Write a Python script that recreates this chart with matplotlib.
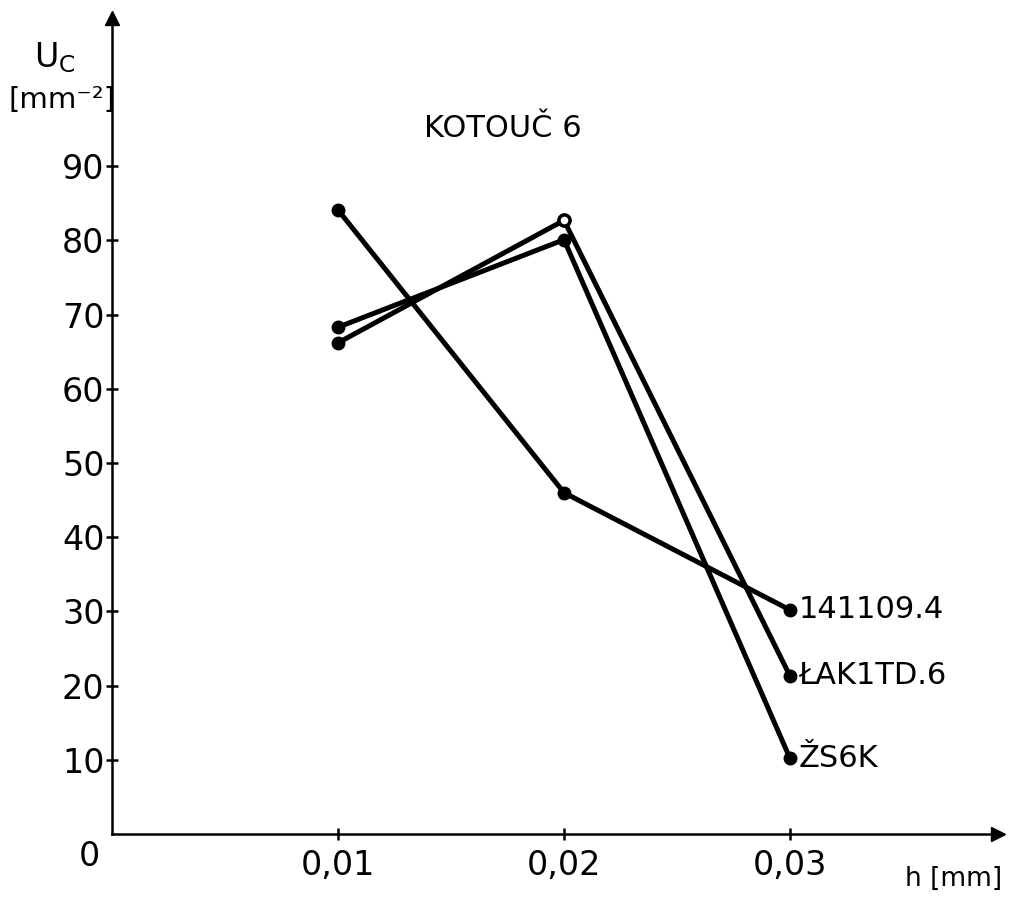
import matplotlib.pyplot as plt

h = [0.01, 0.02, 0.03]
series_names = ["141109.4", "ŁAK1TD.6", "ŽS6K"]
uc_141109 = [84.1, 46.0, 30.2]
uc_lak = [66.2, 82.7, 21.3]
uc_zs6k = [68.3, 80.1, 10.2]
all_series = [uc_141109, uc_lak, uc_zs6k]

yticks = [10, 20, 30, 40, 50, 60, 70, 80, 90]
xticks = [0.01, 0.02, 0.03]
xtick_labels = ["0,01", "0,02", "0,03"]

fig = plt.figure(figsize=(10.2, 9.01), dpi=100)
ax = fig.add_axes([0, 0, 1, 1])
ax.set_xlim(-0.00496, 0.04018)
ax.set_ylim(-9.03, 112.4)

# axes through the origin
for s in ["top", "right"]:
    ax.spines[s].set_visible(False)
ax.spines["left"].set_position(("data", 0))
ax.spines["bottom"].set_position(("data", 0))
ax.spines["left"].set_bounds(0, 110.0)
ax.spines["bottom"].set_bounds(0, 0.0392)
ax.spines["left"].set_linewidth(1.8)
ax.spines["bottom"].set_linewidth(1.8)
ax.plot(0, 110.0, "^k", markersize=10, clip_on=False)
ax.plot(0.0392, 0, ">k", markersize=10, clip_on=False)

ax.set_yticks(yticks)
ax.set_xticks(xticks)
ax.set_xticklabels(xtick_labels)
ax.tick_params(direction="inout", length=9, width=1.8, labelsize=24)
ax.tick_params(axis="y", pad=1)
ax.tick_params(axis="x", pad=6)

for vals in all_series:
    ax.plot(h, vals, "-o", color="black", linewidth=3.6, markersize=9,
            solid_capstyle="round")
# open circle at the peak of the second series
ax.plot(h[1], uc_lak[1], "o", color="black", markerfacecolor="white",
        markeredgewidth=2.5, markersize=8)

for name, vals in zip(series_names, all_series):
    ax.annotate(name, (h[-1], vals[-1]), xytext=(6, 0), textcoords="offset points",
                fontsize=22, va="center", ha="left")

ax.text(-0.00053, -0.8, "0", fontsize=24, ha="right", va="top")
ax.text(0.0351, -4.3, "h [mm]", fontsize=19, ha="left", va="top")
ax.text(-0.00252, 104.6, r"$\mathregular{U_C}$", fontsize=24, ha="center", va="center")
ax.text(-0.0046, 98.9, "[mm⁻²]", fontsize=21, ha="left", va="center")
ax.text(0.0173, 95.1, "KOTOUČ 6", fontsize=22, ha="center", va="center")

fig.savefig("out.png", dpi=100)
